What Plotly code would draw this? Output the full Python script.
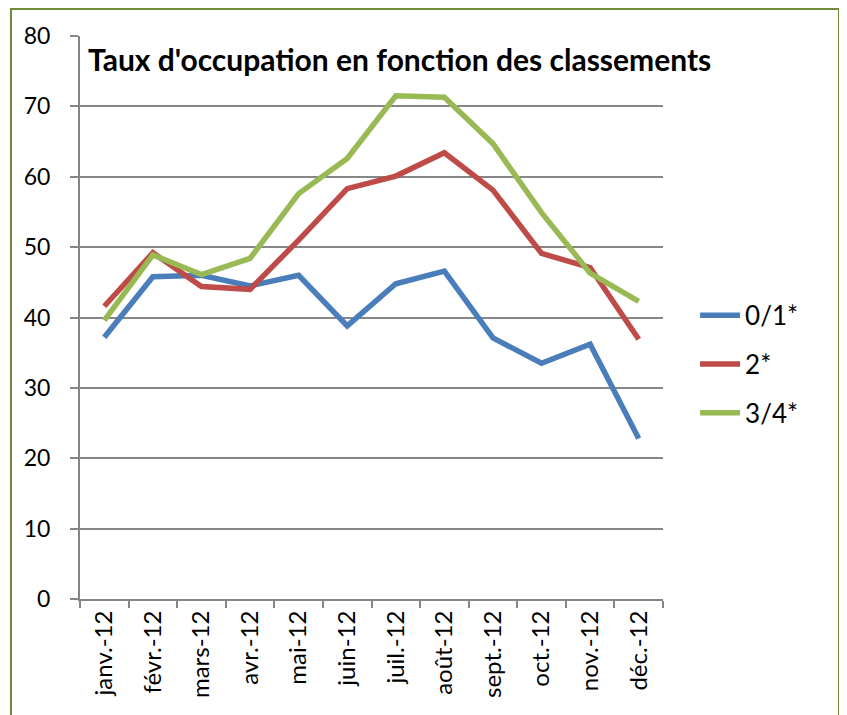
import plotly.graph_objects as go

months = ["janv.-12", "févr.-12", "mars-12", "avr.-12", "mai-12", "juin-12",
          "juil.-12", "août-12", "sept.-12", "oct.-12", "nov.-12", "déc.-12"]
s01 = [37.2, 45.8, 46.0, 44.5, 46.0, 38.8, 44.8, 46.6, 37.1, 33.5, 36.2, 22.8]
s2 = [41.6, 49.2, 44.4, 44.0, 51.0, 58.3, 60.1, 63.4, 58.1, 49.1, 47.1, 36.9]
s34 = [39.6, 48.9, 46.1, 48.4, 57.6, 62.6, 71.5, 71.3, 64.7, 54.9, 46.3, 42.3]
names = ["0/1*", "2*", "3/4*"]
colors = ["#4A7EBB", "#BE4B48", "#98B954"]

FONT = "Lato, Open Sans, sans-serif"

fig = go.Figure()
for n, vals, c in zip(names, [s01, s2, s34], colors):
    fig.add_trace(go.Scatter(x=months, y=vals, name=n, mode="lines",
                             legendgroup=n,
                             line=dict(color=c, width=5.5)))

fig.update_layout(
    width=839, height=707,
    paper_bgcolor="white", plot_bgcolor="white",
    margin=dict(l=72, r=184, t=28, b=116),
    font=dict(family=FONT, size=23, color="black"),
    showlegend=True,
    legend=dict(x=1.055, y=0.417, xanchor="left", yanchor="middle",
                font=dict(size=26), tracegroupgap=12, itemwidth=40,
                traceorder="grouped"),
    title=dict(text="<b>Taux d'occupation en fonction des classements</b>",
               x=0.0137, xref="paper", xanchor="left",
               y=0.926, yref="container", yanchor="middle",
               font=dict(size=30, family=FONT)),
    xaxis=dict(type="category", tickson="boundaries", ticks="outside",
               ticklen=7, tickcolor="#868686", tickwidth=1.5,
               showline=True, linecolor="#868686", linewidth=2,
               showgrid=False, tickangle=-90, tickfont=dict(size=24),
               range=[-0.5, 11.5], fixedrange=True),
    yaxis=dict(range=[0, 80], dtick=10, ticks="outside", ticklen=8,
               tickcolor="#868686", tickwidth=1.5, ticklabelstandoff=15,
               showline=True, linecolor="#868686", linewidth=2,
               showgrid=True, gridcolor="#868686", gridwidth=2,
               zeroline=False, tickfont=dict(size=23)),
    shapes=[dict(type="rect", xref="paper", yref="paper",
                 x0=-0.1184, x1=1.3019, y0=-0.25, y1=1.048,
                 line=dict(color="#6F8A3A", width=2), layer="below")],
)

fig.write_html("out.html")
